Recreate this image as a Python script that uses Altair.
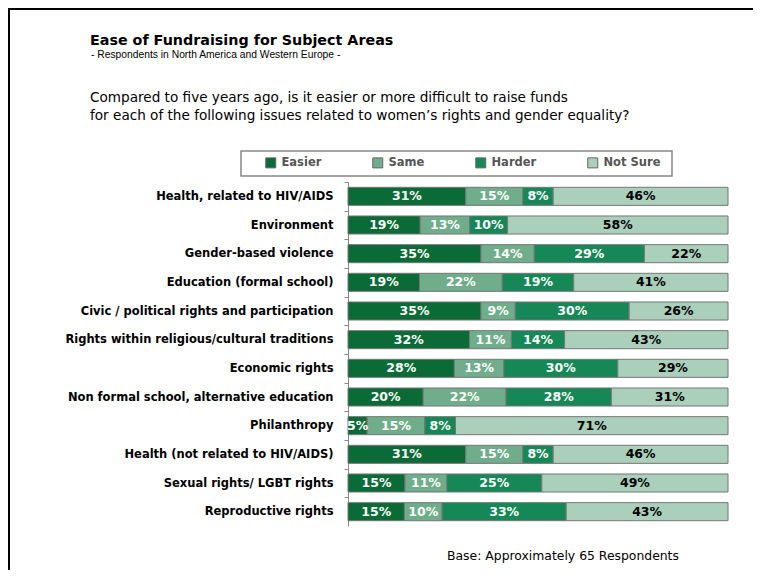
import altair as alt
import pandas as pd

categories = [
    "Health, related to HIV/AIDS",
    "Environment",
    "Gender-based violence",
    "Education (formal school)",
    "Civic / political rights and participation",
    "Rights within religious/cultural traditions",
    "Economic rights",
    "Non formal school, alternative education",
    "Philanthropy",
    "Health (not related to HIV/AIDS)",
    "Sexual rights/ LGBT rights",
    "Reproductive rights",
]
responses = ["Easier", "Same", "Harder", "Not Sure"]
easier = [31, 19, 35, 19, 35, 32, 28, 20, 5, 31, 15, 15]
same = [15, 13, 14, 22, 9, 11, 13, 22, 15, 15, 11, 10]
harder = [8, 10, 29, 19, 30, 14, 30, 28, 8, 8, 25, 33]
not_sure = [46, 58, 22, 41, 26, 43, 29, 31, 71, 46, 49, 43]
colors = ["#0b6b37", "#6fad8b", "#168858", "#aacfbb"]

title_text = "Ease of Fundraising for Subject Areas"
subtitle_text = "- Respondents in North America and Western Europe -"
question_lines = [
    "Compared to five years ago, is it easier or more difficult to raise funds",
    "for each of the following issues related to women\u2019s rights and gender equality?",
]
footer_text = "Base: Approximately 65 Respondents"

FONT = "DejaVu Sans"

rows = []
series = [easier, same, harder, not_sure]
for i, cat in enumerate(categories):
    for j, resp in enumerate(responses):
        rows.append({"cat": cat, "resp": resp, "order": j, "value": series[j][i]})
df = pd.DataFrame(rows)

base = alt.Chart(df).transform_stack(
    stack="value",
    groupby=["cat"],
    as_=["v0", "v1"],
    offset="normalize",
    sort=[alt.SortField(field="order", order="ascending")],
).transform_calculate(
    mid="(datum.v0 + datum.v1) / 2",
    label="datum.value + '%'",
)

yenc = alt.Y(
    "cat:N",
    sort=categories,
    scale=alt.Scale(paddingInner=0.37, paddingOuter=0.185),
    axis=alt.Axis(
        title=None,
        labelFont=FONT,
        labelFontSize=11.5,
        labelFontWeight="bold",
        labelColor="black",
        labelLimit=400,
        labelPadding=11,
        tickSize=4,
        tickColor="#888",
        domainColor="#888",
        tickOffset=-14.33,
        labelOffset=14.33,
        grid=False,
    ),
)

bars = base.mark_bar(stroke="#777", strokeWidth=1).encode(
    y=yenc,
    x=alt.X("v0:Q", scale=alt.Scale(domain=[0, 1]), axis=None),
    x2="v1:Q",
    color=alt.Color(
        "resp:N",
        scale=alt.Scale(domain=responses, range=colors),
        legend=alt.Legend(
            title=None,
            orient="none",
            legendX=-83,
            legendY=-25,
            direction="horizontal",
            columns=4,
            columnPadding=48,
            padding=0,
            symbolType="square",
            symbolSize=100,
            symbolStrokeColor="#666",
            symbolStrokeWidth=1,
            labelFont=FONT,
            labelFontSize=11.5,
            labelFontWeight="bold",
            labelColor="#555",
            labelOffset=5,
        ),
    ),
)

labels = base.mark_text(font=FONT, fontSize=12.5, fontWeight="bold").encode(
    y=alt.Y("cat:N", sort=categories),
    x=alt.X("mid:Q"),
    text="label:N",
    color=alt.condition(alt.datum.resp == "Not Sure", alt.value("black"), alt.value("white")),
)

legend_box = alt.Chart(pd.DataFrame({"a": [0]})).mark_rect(
    fill="white", stroke="#888", strokeWidth=1.5
).encode(x=alt.value(-107), x2=alt.value(324), y=alt.value(-31), y2=alt.value(-6))

def txt(s, x, y, size, weight="normal", color="black", font=FONT):
    return alt.Chart(pd.DataFrame({"t": [s]})).mark_text(
        align="left", baseline="alphabetic", font=font, fontSize=size,
        fontWeight=weight, color=color,
    ).encode(text="t:N", x=alt.value(x), y=alt.value(y))

t1 = txt(title_text, -258, -137, 14.3, "bold")
t2 = txt(subtitle_text, -257, -124, 10.3, font="Liberation Sans")
q1 = txt(question_lines[0], -258, -80, 13.6)
q2 = txt(question_lines[1], -258, -62, 13.6)
ft = txt(footer_text, 99, 378, 12.4)

border_left = alt.Chart(pd.DataFrame({"a": [0]})).mark_rule(color="black", strokeWidth=2).encode(
    x=alt.value(-339), y=alt.value(-173), y2=alt.value(390)
)
border_top = alt.Chart(pd.DataFrame({"a": [0]})).mark_rule(color="black", strokeWidth=2).encode(
    x=alt.value(-340), x2=alt.value(410), y=alt.value(-173)
)

chart = alt.layer(
    legend_box, bars, labels, t1, t2, q1, q2, ft, border_left, border_top
).properties(
    width=380,
    height=344,
    padding={"left": 340, "top": 174, "right": 25, "bottom": 44},
    autosize=alt.AutoSizeParams(type="none"),
    background="white",
).configure_view(stroke=None)

chart.save("out.html", embed_options={"renderer": "svg", "actions": False})
